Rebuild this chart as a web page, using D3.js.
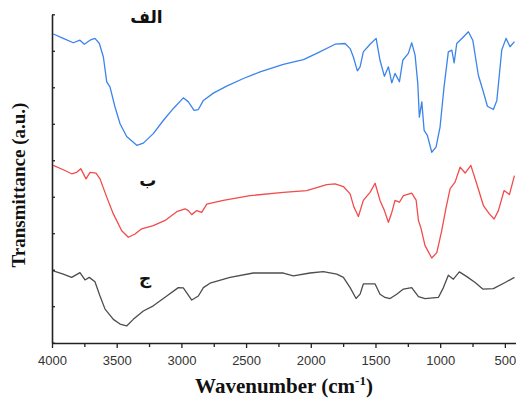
<!DOCTYPE html>
<html>
<head>
<meta charset="utf-8">
<script src="https://cdn.jsdelivr.net/npm/d3@7"></script>
<style>
  body { margin: 0; background: #fff; }
  svg { display: block; }
</style>
</head>
<body>
<div id="chart"></div>
<script>
// wavenumbers (cm-1) and transmittance (a.u.)
const blueWn = [3990, 3913, 3835, 3784, 3750, 3706, 3668, 3634, 3603, 3577, 3552, 3513, 3474, 3423, 3345, 3294, 3217, 3140, 3062, 2985, 2946, 2902, 2869, 2830, 2753, 2650, 2521, 2392, 2212, 2057, 1954, 1812, 1735, 1696, 1671, 1640, 1619, 1594, 1542, 1495, 1465, 1431, 1400, 1374, 1349, 1315, 1289, 1246, 1220, 1194, 1173, 1161, 1142, 1124, 1099, 1065, 1032, 1001, 970, 937, 910, 892, 872, 821, 782, 748, 705, 666, 635, 589, 562, 524, 491, 460, 426];
const blueT = [8.46, 8.34, 8.22, 8.29, 8.18, 8.29, 8.34, 8.20, 7.83, 7.15, 7.01, 6.46, 6.00, 5.65, 5.41, 5.47, 5.73, 6.09, 6.42, 6.71, 6.60, 6.37, 6.39, 6.64, 6.84, 7.03, 7.24, 7.42, 7.63, 7.76, 7.93, 8.18, 8.20, 8.06, 7.83, 7.45, 7.56, 7.97, 8.18, 8.34, 7.74, 7.30, 7.56, 7.12, 7.38, 7.15, 7.74, 7.93, 8.22, 7.88, 7.10, 6.18, 6.60, 5.82, 5.68, 5.22, 5.36, 5.91, 7.01, 7.97, 8.02, 7.67, 8.20, 8.38, 8.52, 8.29, 7.33, 6.87, 6.48, 6.39, 6.64, 8.02, 8.34, 8.11, 8.25];

const redWn = [3990, 3913, 3848, 3809, 3778, 3737, 3706, 3660, 3629, 3577, 3526, 3461, 3410, 3358, 3307, 3217, 3126, 3036, 2972, 2946, 2920, 2881, 2843, 2804, 2676, 2469, 2212, 2031, 1877, 1812, 1748, 1696, 1666, 1632, 1594, 1542, 1503, 1465, 1431, 1400, 1374, 1349, 1315, 1284, 1220, 1186, 1168, 1150, 1117, 1065, 1026, 988, 954, 923, 885, 846, 807, 763, 717, 666, 620, 583, 550, 506, 465, 426];
const redT = [4.86, 4.74, 4.63, 4.67, 4.77, 4.49, 4.67, 4.65, 4.49, 3.99, 3.53, 3.07, 2.89, 2.98, 3.12, 3.21, 3.35, 3.59, 3.67, 3.62, 3.51, 3.62, 3.57, 3.80, 3.90, 4.03, 4.12, 4.17, 4.33, 4.35, 4.28, 4.08, 3.71, 3.46, 3.90, 4.12, 4.37, 3.90, 3.62, 3.30, 3.57, 3.90, 3.85, 4.03, 4.10, 3.91, 3.35, 3.16, 2.66, 2.32, 2.47, 3.07, 3.71, 4.22, 4.40, 4.81, 4.65, 4.86, 4.35, 3.76, 3.53, 3.39, 3.62, 4.17, 4.06, 4.58];

const grayWn = [3990, 3913, 3848, 3784, 3745, 3712, 3668, 3629, 3590, 3526, 3474, 3423, 3372, 3294, 3217, 3113, 3024, 2985, 2920, 2869, 2830, 2779, 2624, 2444, 2212, 2135, 2006, 1903, 1799, 1748, 1696, 1650, 1619, 1594, 1555, 1503, 1465, 1426, 1387, 1336, 1284, 1220, 1168, 1117, 1014, 975, 937, 898, 852, 794, 730, 671, 589, 498, 426];
const grayT = [1.97, 1.88, 1.79, 1.92, 1.72, 1.79, 1.67, 1.28, 0.92, 0.64, 0.51, 0.46, 0.64, 0.87, 1.01, 1.28, 1.51, 1.50, 1.17, 1.28, 1.51, 1.63, 1.79, 1.91, 1.91, 1.83, 1.91, 1.95, 1.88, 1.79, 1.51, 1.21, 1.33, 1.61, 1.61, 1.61, 1.33, 1.24, 1.21, 1.33, 1.47, 1.51, 1.26, 1.21, 1.24, 1.51, 1.85, 1.74, 1.94, 1.81, 1.65, 1.47, 1.48, 1.65, 1.79];

const majorTicks = [4000, 3500, 3000, 2500, 2000, 1500, 1000, 500];
const minorTicks = [3750, 3250, 2750, 2250, 1750, 1250, 750];
const yTicks = [0, 1, 2, 3, 4, 5, 6, 7, 8, 9];

const sampleNames = ['الف', 'ب', 'ج'];
const sampleLabelPos = [[3270, 8.75], [3260, 4.3], [3280, 1.6]];

const width = 516, height = 399;
const margin = { top: 14, right: 0, bottom: 56, left: 52 };

const svg = d3.select('#chart').append('svg')
  .attr('width', width)
  .attr('height', height);

const x = d3.scaleLinear()
  .domain([4000, 414])
  .range([margin.left, width - margin.right]);

const y = d3.scaleLinear()
  .domain([0, 9])
  .range([height - margin.bottom - 0.3, margin.top + 0.3]);

const line = d3.line()
  .x(d => x(d[0]))
  .y(d => y(d[1]));

const series = [
  { wn: blueWn, t: blueT, color: '#3b84ec' },
  { wn: redWn, t: redT, color: '#f24b4b' },
  { wn: grayWn, t: grayT, color: '#4d4d4d' }
];

series.forEach(s => {
  svg.append('path')
    .datum(d3.zip(s.wn, s.t))
    .attr('fill', 'none')
    .attr('stroke', s.color)
    .attr('stroke-width', 1.3)
    .attr('stroke-linejoin', 'round')
    .attr('d', line);
});

// x axis with major and minor ticks
const xAxisY = height - margin.bottom;
svg.append('g')
  .attr('transform', 'translate(0,' + xAxisY + ')')
  .call(d3.axisBottom(x).tickValues(minorTicks).tickSize(4).tickSizeOuter(0).tickFormat(''))
  .call(g => g.select('.domain').remove())
  .call(g => g.selectAll('line').attr('stroke', '#222').attr('stroke-width', 1.3));

svg.append('g')
  .attr('transform', 'translate(0,' + xAxisY + ')')
  .call(d3.axisBottom(x).tickValues(majorTicks).tickSize(5).tickSizeOuter(0).tickPadding(8).tickFormat(d3.format('d')))
  .call(g => g.select('.domain').attr('stroke', '#222').attr('stroke-width', 1.6))
  .call(g => g.selectAll('line').attr('stroke', '#222').attr('stroke-width', 1.3))
  .call(g => g.selectAll('text')
    .attr('fill', '#333')
    .style('font-family', '"Liberation Sans", Arial, sans-serif')
    .style('font-size', '13px'));

// y axis, no labels, small inward ticks
svg.append('g')
  .attr('transform', 'translate(' + margin.left + ',0)')
  .call(d3.axisLeft(y).tickValues(yTicks).tickSize(-3).tickSizeOuter(0).tickFormat(''))
  .call(g => g.select('.domain').attr('stroke', '#222').attr('stroke-width', 1.6))
  .call(g => g.selectAll('line').attr('stroke', '#222').attr('stroke-width', 1.3));

// sample labels
sampleNames.forEach((name, i) => {
  svg.append('text')
    .attr('x', x(sampleLabelPos[i][0]))
    .attr('y', y(sampleLabelPos[i][1]))
    .attr('text-anchor', 'middle')
    .style('font-family', '"DejaVu Sans", sans-serif')
    .style('font-weight', 'bold')
    .style('font-size', '17px')
    .attr('fill', '#111')
    .text(name);
});

// axis titles
const xTitle = svg.append('text')
  .attr('x', 284)
  .attr('y', 393)
  .attr('text-anchor', 'middle')
  .style('font-family', '"Liberation Serif", "Times New Roman", serif')
  .style('font-weight', 'bold')
  .style('font-size', '21px')
  .attr('fill', '#111');
xTitle.append('tspan').text('Wavenumber (cm');
xTitle.append('tspan').attr('dy', -8).style('font-size', '13px').text('-1');
xTitle.append('tspan').attr('dy', 8).text(')');

svg.append('text')
  .attr('transform', 'translate(25,' + 185 + ') rotate(-90)')
  .attr('text-anchor', 'middle')
  .style('font-family', '"Liberation Serif", "Times New Roman", serif')
  .style('font-weight', 'bold')
  .style('font-size', '19px')
  .attr('fill', '#111')
  .text('Transmittance (a.u.)');
</script>
</body>
</html>
